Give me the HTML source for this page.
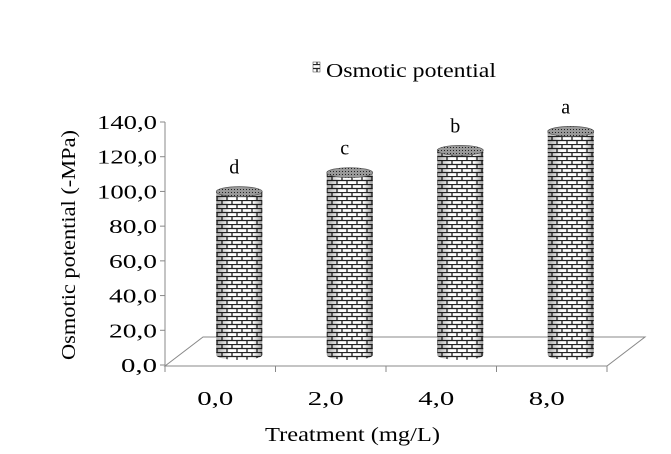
<!DOCTYPE html>
<html><head><meta charset="utf-8"><style>
body{margin:0;background:#fff}
svg{display:block;font-family:"Liberation Serif",serif}
</style></head><body>
<svg width="671" height="454" viewBox="0 0 671 454">
<defs>
<pattern id="brick" width="10" height="8" patternUnits="userSpaceOnUse">
<rect width="10" height="8" fill="#fff"/>
<path d="M0 0.5H10M0 4.5H10M2 0.5V4.5M7 4.5V8.5" stroke="#222" stroke-width="1.3" fill="none"/>
</pattern>
<pattern id="dots" width="3" height="3" patternUnits="userSpaceOnUse">
<rect width="3" height="3" fill="#999"/><rect width="1" height="1" fill="#222"/>
</pattern>
<linearGradient id="shade" x1="0" x2="1">
<stop offset="0" stop-color="#000" stop-opacity="0.35"/>
<stop offset="0.3" stop-color="#000" stop-opacity="0"/>
<stop offset="0.8" stop-color="#000" stop-opacity="0"/>
<stop offset="1" stop-color="#000" stop-opacity="0.4"/>
</linearGradient>
</defs>
<g id="axes"></g>
<g id="bars"></g>
<g>
<rect x="313" y="62" width="7" height="10" fill="url(#brick)" stroke="#333" stroke-width="0.5"/>
<text x="326" y="77" font-size="20" textLength="170" lengthAdjust="spacingAndGlyphs">Osmotic potential</text>
</g>
<text x="265" y="441" font-size="20" textLength="175" lengthAdjust="spacingAndGlyphs">Treatment (mg/L)</text>
<text transform="translate(75,360) rotate(-90)" font-size="20" textLength="230" lengthAdjust="spacingAndGlyphs">Osmotic potential (-MPa)</text>
<script>
const categories=["0,0","2,0","4,0","8,0"];
const values=[95,106,119,130];
const letters=["d","c","b","a"];
const yTicks=[0,20,40,60,80,100,120,140];
const NS="http://www.w3.org/2000/svg";
function mk(t,a,p){const e=document.createElementNS(NS,t);for(const k in a)e.setAttribute(k,a[k]);p.appendChild(e);return e;}
const axisY=v=>365-v*(243/140);
const barY=v=>355-v*1.72;
const catX=i=>165+110.5*(i+0.5)+19;
const ax=document.getElementById('axes');
let e=mk('path',{d:'M165 366 L203 337 L645 337 L607 366 Z',fill:'none',stroke:'#888','stroke-width':1},ax);


e=mk('line',{x1:165,y1:axisY(140),x2:165,y2:366,stroke:'#888'},ax);


yTicks.forEach(v=>{
 const y=axisY(v);
 mk('line',{x1:160,y1:y,x2:165,y2:y,stroke:'#888'},ax);
 const s=v.toFixed(1).replace('.',',');
 const t=mk('text',{x:157,y:y+7,'font-size':20,'text-anchor':'end',textLength:s.length*12,lengthAdjust:'spacingAndGlyphs'},ax);
 t.textContent=s;
 
 
});
for(let i=0;i<=categories.length;i++){const x=165+110.5*i;mk('line',{x1:x,y1:366,x2:x,y2:372,stroke:'#888'},ax);}
categories.forEach((c,i)=>{
 const t=mk('text',{x:165+110.5*(i+0.5)-5,y:405,'font-size':20,'text-anchor':'middle',textLength:36,lengthAdjust:'spacingAndGlyphs'},ax);
 t.textContent=c;
 
 
});
const bg=document.getElementById('bars');
values.forEach((v,i)=>{
 const cx=catX(i),r=23,top=barY(v),bot=355;
 const g=mk('g',{},bg);
 
 
 const d=`M${cx-r} ${top} V${bot} A${r} 5 0 0 0 ${cx+r} ${bot} V${top} Z`;
 mk('path',{d,fill:'url(#brick)'},g);
 mk('path',{d,fill:'url(#shade)'},g);
 mk('ellipse',{cx,cy:top,rx:r,ry:5,fill:'url(#dots)',stroke:'#555','stroke-width':0.7},g);
 const t=mk('text',{x:cx-5,y:top-18,'font-size':20,'text-anchor':'middle'},bg);
 t.textContent=letters[i];
 
 
});
</script>
</svg>
</body></html>
